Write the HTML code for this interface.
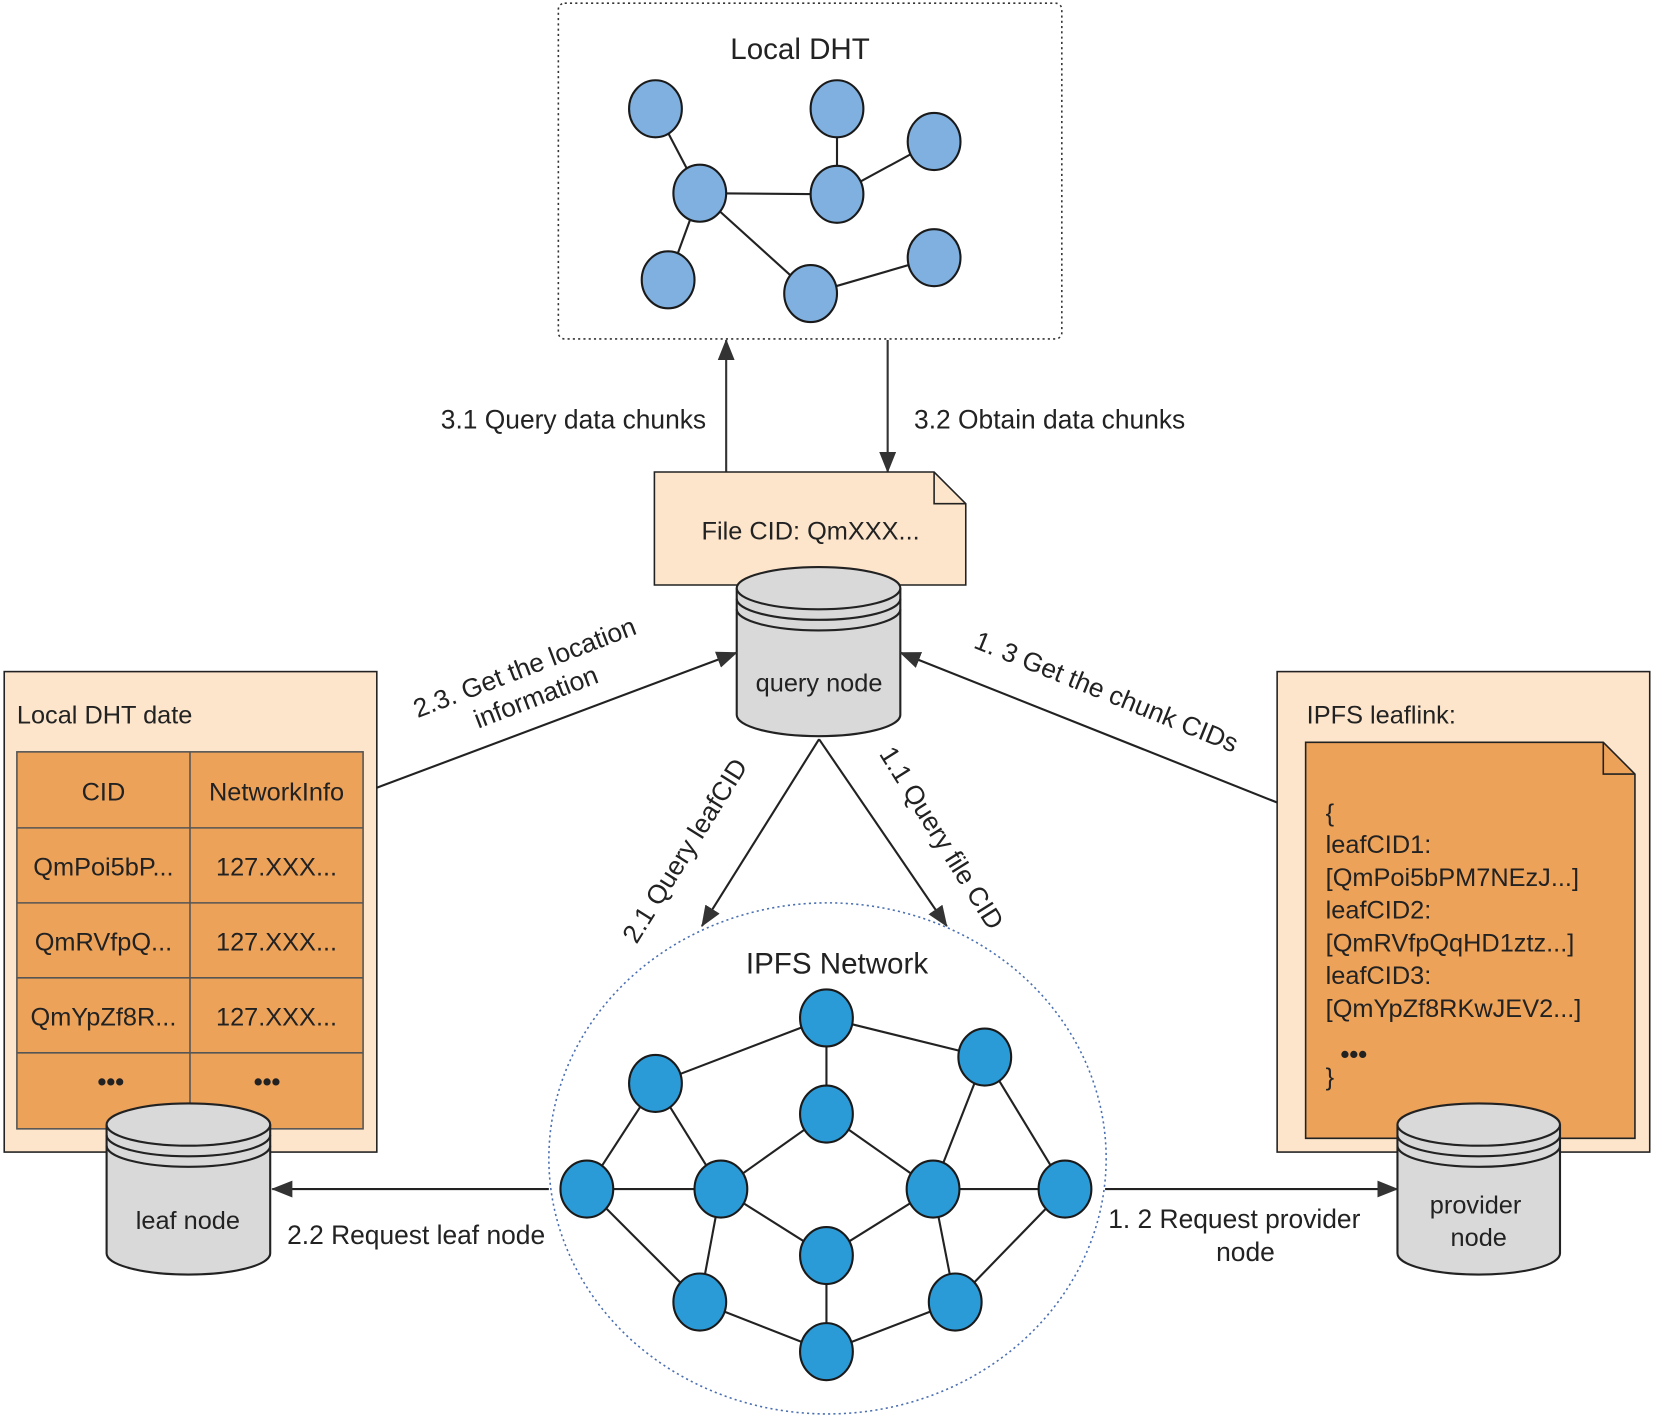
<!DOCTYPE html>
<html><head><meta charset="utf-8"><style>
html,body{margin:0;padding:0;background:#fff;}
svg{display:block;}
text{font-family:"Liberation Sans","DejaVu Sans",sans-serif;fill:#222;}
</style></head><body>
<svg width="1655" height="1415" viewBox="0 0 1568 1340" preserveAspectRatio="none" xmlns="http://www.w3.org/2000/svg">
<defs>
<marker id="a" viewBox="0 0 20 16" refX="19" refY="8" markerWidth="20" markerHeight="16" orient="auto" markerUnits="userSpaceOnUse"><path d="M0,0 L20,8 L0,16 Z" fill="#333"/></marker>
</defs>
<!-- Local DHT box -->
<rect x="529" y="3" width="477" height="318" rx="6" fill="#fff" stroke="#333" stroke-width="1.5" stroke-dasharray="2,3"/>
<text x="758" y="56" font-size="28" text-anchor="middle">Local DHT</text>
<g stroke="#222" stroke-width="2">
<line x1="621" y1="103" x2="663" y2="183"/><line x1="663" y1="183" x2="793" y2="184"/>
<line x1="793" y1="103" x2="793" y2="184"/><line x1="793" y1="184" x2="885" y2="134"/>
<line x1="663" y1="183" x2="633" y2="265"/><line x1="663" y1="183" x2="768" y2="278"/>
<line x1="768" y1="278" x2="885" y2="244"/>
</g>
<g fill="#7fb0df" stroke="#1a1a1a" stroke-width="2">
<ellipse cx="621" cy="103" rx="25" ry="27"/><ellipse cx="793" cy="103" rx="25" ry="27"/>
<ellipse cx="885" cy="134" rx="25" ry="27"/><ellipse cx="663" cy="183" rx="25" ry="27"/>
<ellipse cx="793" cy="184" rx="25" ry="27"/><ellipse cx="633" cy="265" rx="25" ry="27"/>
<ellipse cx="768" cy="278" rx="25" ry="27"/><ellipse cx="885" cy="244" rx="25" ry="27"/>
</g>
<!-- 3.x arrows -->
<g stroke="#333" stroke-width="2" fill="none">
<line x1="688" y1="447" x2="688" y2="322" marker-end="url(#a)"/>
<line x1="841" y1="322" x2="841" y2="447" marker-end="url(#a)"/>
</g>
<text x="669" y="406" font-size="25" text-anchor="end">3.1 Query data chunks</text>
<text x="866" y="406" font-size="25">3.2 Obtain data chunks</text>
<!-- file doc -->
<path d="M620,447 H885 L915,477 V554 H620 Z" fill="#fde5cc" stroke="#222" stroke-width="1.5"/>
<path d="M885,447 V477 H915" fill="none" stroke="#222" stroke-width="1.5"/>
<text x="768" y="511" font-size="24" text-anchor="middle">File CID: QmXXX...</text>
<!-- query node cylinder -->
<g stroke="#222" stroke-width="2" fill="#d9d9d9">
<path d="M698,557 V677 A77,20 0 0 0 853,677 V557"/>
<ellipse cx="775.5" cy="557" rx="77.5" ry="20"/>
<path d="M698,567 A77.5,20 0 0 0 853,567 M698,577 A77.5,20 0 0 0 853,577" fill="none"/>
</g>
<text x="776" y="655" font-size="24" text-anchor="middle">query node</text>
<!-- left panel -->
<rect x="4" y="636" width="353" height="455" fill="#fde5cc" stroke="#222" stroke-width="1.5"/>
<text x="16" y="685" font-size="24">Local DHT date</text>
<rect x="16" y="712" width="328" height="357" fill="#eda25a" stroke="#555" stroke-width="1.5"/>
<g stroke="#555" stroke-width="1.5">
<line x1="180" y1="712" x2="180" y2="1069"/>
<line x1="16" y1="784" x2="344" y2="784"/><line x1="16" y1="855" x2="344" y2="855"/>
<line x1="16" y1="926" x2="344" y2="926"/><line x1="16" y1="997" x2="344" y2="997"/>
</g>
<g font-size="24" text-anchor="middle">
<text x="98" y="758">CID</text><text x="262" y="758">NetworkInfo</text>
<text x="98" y="829">QmPoi5bP...</text><text x="262" y="829">127.XXX...</text>
<text x="98" y="900">QmRVfpQ...</text><text x="262" y="900">127.XXX...</text>
<text x="98" y="971">QmYpZf8R...</text><text x="262" y="971">127.XXX...</text>
<text x="105" y="1032" font-weight="bold">•••</text><text x="253" y="1032" font-weight="bold">•••</text>
</g>
<!-- leaf node cylinder -->
<g stroke="#222" stroke-width="2" fill="#d9d9d9">
<path d="M101,1065 V1187 A77.5,20 0 0 0 256,1187 V1065"/>
<ellipse cx="178.5" cy="1065" rx="77.5" ry="20"/>
<path d="M101,1075 A77.5,20 0 0 0 256,1075 M101,1085 A77.5,20 0 0 0 256,1085" fill="none"/>
</g>
<text x="178" y="1164" font-size="24" text-anchor="middle">leaf node</text>
<!-- right panel -->
<rect x="1210" y="636" width="353" height="455" fill="#fde5cc" stroke="#222" stroke-width="1.5"/>
<text x="1238" y="685" font-size="24">IPFS leaflink:</text>
<path d="M1237,703 H1519 L1549,733 V1078 H1237 Z" fill="#eda25a" stroke="#222" stroke-width="1.5"/>
<path d="M1519,703 V733 H1549" fill="none" stroke="#222" stroke-width="1.5"/>
<g font-size="24">
<text x="1256" y="778">{</text>
<text x="1256" y="808">leafCID1:</text>
<text x="1256" y="839">[QmPoi5bPM7NEzJ...]</text>
<text x="1256" y="870">leafCID2:</text>
<text x="1256" y="901">[QmRVfpQqHD1ztz...]</text>
<text x="1256" y="932">leafCID3:</text>
<text x="1256" y="963">[QmYpZf8RKwJEV2...]</text>
<text x="1270" y="1006" font-weight="bold">•••</text>
<text x="1256" y="1028">}</text>
</g>
<!-- provider cylinder -->
<g stroke="#222" stroke-width="2" fill="#d9d9d9">
<path d="M1324,1065 V1187 A77,20 0 0 0 1478,1187 V1065"/>
<ellipse cx="1401" cy="1065" rx="77" ry="20"/>
<path d="M1324,1075 A77,20 0 0 0 1478,1075 M1324,1085 A77,20 0 0 0 1478,1085" fill="none"/>
</g>
<text x="1398" y="1149" font-size="24" text-anchor="middle">provider</text>
<text x="1401" y="1180" font-size="24" text-anchor="middle">node</text>
<!-- IPFS network -->
<ellipse cx="784" cy="1097" rx="264" ry="242" fill="#fff" stroke="#4a6fb0" stroke-width="1.5" stroke-dasharray="2,3"/>
<text x="793" y="922" font-size="28" text-anchor="middle">IPFS Network</text>
<g stroke="#222" stroke-width="2">
<line x1="621" y1="1026" x2="783" y2="964"/><line x1="783" y1="964" x2="933" y2="1001"/>
<line x1="783" y1="964" x2="783" y2="1055"/><line x1="621" y1="1026" x2="556" y2="1126"/>
<line x1="621" y1="1026" x2="683" y2="1126"/><line x1="783" y1="1055" x2="683" y2="1126"/>
<line x1="783" y1="1055" x2="884" y2="1126"/><line x1="933" y1="1001" x2="884" y2="1126"/>
<line x1="933" y1="1001" x2="1009" y2="1126"/><line x1="556" y1="1126" x2="683" y2="1126"/>
<line x1="884" y1="1126" x2="1009" y2="1126"/><line x1="556" y1="1126" x2="663" y2="1233"/>
<line x1="683" y1="1126" x2="663" y2="1233"/><line x1="683" y1="1126" x2="783" y2="1189"/>
<line x1="884" y1="1126" x2="783" y2="1189"/><line x1="884" y1="1126" x2="905" y2="1233"/>
<line x1="1009" y1="1126" x2="905" y2="1233"/><line x1="783" y1="1189" x2="783" y2="1280"/>
<line x1="663" y1="1233" x2="783" y2="1280"/><line x1="905" y1="1233" x2="783" y2="1280"/>
</g>
<g fill="#2b9bd8" stroke="#1a1a1a" stroke-width="2">
<ellipse cx="621" cy="1026" rx="25" ry="27"/><ellipse cx="783" cy="964" rx="25" ry="27"/>
<ellipse cx="933" cy="1001" rx="25" ry="27"/><ellipse cx="783" cy="1055" rx="25" ry="27"/>
<ellipse cx="556" cy="1126" rx="25" ry="27"/><ellipse cx="683" cy="1126" rx="25" ry="27"/>
<ellipse cx="884" cy="1126" rx="25" ry="27"/><ellipse cx="1009" cy="1126" rx="25" ry="27"/>
<ellipse cx="783" cy="1189" rx="25" ry="27"/><ellipse cx="663" cy="1233" rx="25" ry="27"/>
<ellipse cx="905" cy="1233" rx="25" ry="27"/><ellipse cx="783" cy="1280" rx="25" ry="27"/>
</g>
<!-- connectors -->
<g stroke="#222" stroke-width="2" fill="none">
<line x1="776" y1="700" x2="665" y2="877" marker-end="url(#a)"/>
<line x1="776" y1="700" x2="897" y2="877" marker-end="url(#a)"/>
<line x1="357" y1="746" x2="698" y2="618" marker-end="url(#a)"/>
<line x1="1210" y1="760" x2="853" y2="618" marker-end="url(#a)"/>
<line x1="520" y1="1126" x2="258" y2="1126" marker-end="url(#a)"/>
<line x1="1047" y1="1126" x2="1324" y2="1126" marker-end="url(#a)"/>
</g>
<text transform="translate(500,640) rotate(-21)" font-size="25" text-anchor="middle"><tspan x="0" y="0">2.3. Get the location</tspan><tspan x="0" y="30">information</tspan></text>
<text transform="translate(1045,663) rotate(22)" font-size="25" text-anchor="middle">1. 3 Get the chunk CIDs</text>
<text transform="translate(656,810) rotate(-58)" font-size="25" text-anchor="middle">2.1 Query leafCID</text>
<text transform="translate(885,798) rotate(58)" font-size="25" text-anchor="middle">1.1 Query file CID</text>
<text x="272" y="1178" font-size="25">2.2 Request leaf node</text>
<text x="1050" y="1163" font-size="25">1. 2 Request provider</text>
<text x="1180" y="1194" font-size="25" text-anchor="middle">node</text>
</svg>
</body></html>
